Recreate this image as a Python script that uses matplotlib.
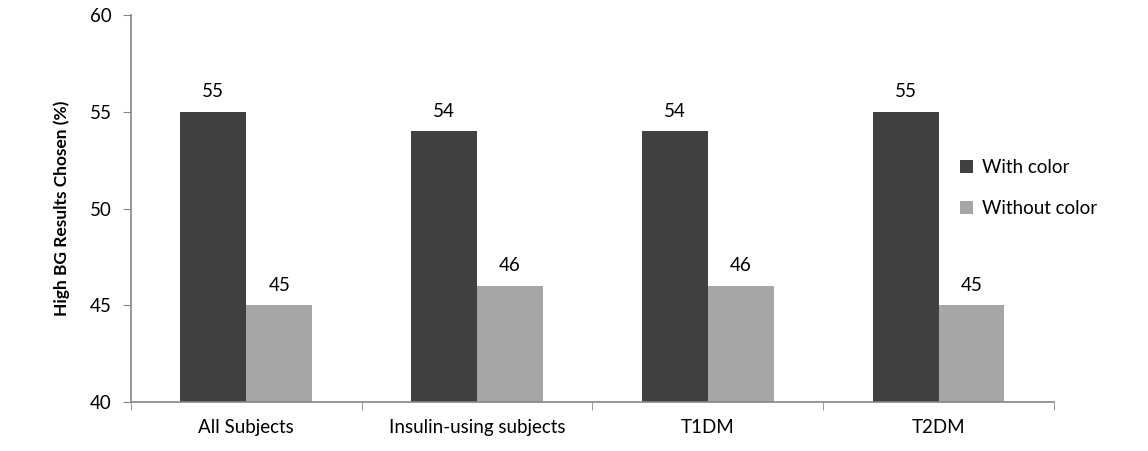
import matplotlib
matplotlib.use("Agg")
import matplotlib.pyplot as plt
import numpy as np

categories = ["All Subjects", "Insulin-using subjects", "T1DM", "T2DM"]
with_color = [55, 54, 54, 55]
without_color = [45, 46, 46, 45]
series_names = ["With color", "Without color"]

plt.rcParams['font.family'] = ['Lato', 'DejaVu Sans']

fig = plt.figure(figsize=(11.48, 4.51), dpi=100)
ax = fig.add_axes([0.1141, 0.1086, 0.8039, 0.8581])

x = np.arange(len(categories))
w = 0.286
b1 = ax.bar(x - w/2, with_color, w, color='#404040', label=series_names[0])
b2 = ax.bar(x + w/2, without_color, w, color='#a6a6a6', label=series_names[1])

for bars, vals in ((b1, with_color), (b2, without_color)):
    for r, v in zip(bars, vals):
        ax.text(r.get_x() + r.get_width()/2, v + 0.6, str(v),
                ha='center', va='bottom', fontsize=13.5)

ax.set_xlim(-0.5, len(categories) - 0.5)
ax.set_ylim(40, 60)
ax.set_yticks([40, 45, 50, 55, 60])
ax.set_xticks(x)
ax.set_xticklabels(categories, fontsize=13.5)
ax.tick_params(axis='x', length=0, pad=12)
ax.set_xticks(np.arange(len(categories) + 1) - 0.5, minor=True)
ax.tick_params(axis='x', which='minor', length=6, color='#868686')
ax.tick_params(axis='y', labelsize=13.5, length=6, color='#868686', pad=8)

for s in ['top', 'right']:
    ax.spines[s].set_visible(False)
for s in ['left', 'bottom']:
    ax.spines[s].set_color('#868686')
    ax.spines[s].set_linewidth(1.2)

ax.set_ylabel("High BG Results Chosen (%)", fontsize=12.5, fontweight='bold', labelpad=14)

ax.legend(loc='center left', bbox_to_anchor=(0.88, 0.553), frameon=False,
          fontsize=13.5, handlelength=0.7, handleheight=0.7, handletextpad=0.5,
          labelspacing=1.3)

fig.savefig("out.png", dpi=100)
